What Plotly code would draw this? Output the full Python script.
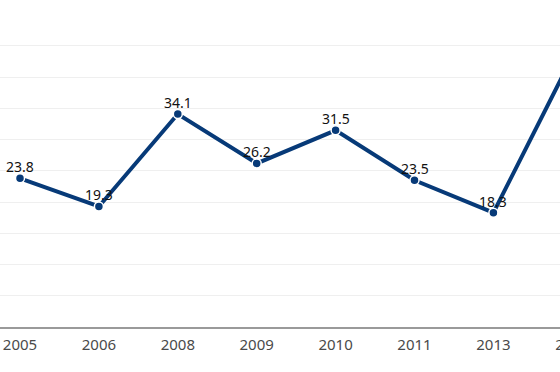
import plotly.graph_objects as go

years = ["2005", "2006", "2008", "2009", "2010", "2011", "2013", "2014"]
values = [23.8, 19.3, 34.1, 26.2, 31.5, 23.5, 18.3, 43.3]
# the last point lies beyond the visible edge of the reference; its label is not shown there
label_visible = [True, True, True, True, True, True, True, False]

line_color = "#073a78"
font_family = "Noto Sans, Open Sans, sans-serif"

fig = go.Figure(
    go.Scatter(
        x=years,
        y=values,
        mode="lines+markers",
        line=dict(color=line_color, width=4),
        marker=dict(color=line_color, size=9, line=dict(color="white", width=1.5)),
        cliponaxis=True,
        hoverinfo="skip",
    )
)

# category axis: annotations are positioned by category index
for i, (v, show) in enumerate(zip(values, label_visible)):
    if show:
        fig.add_annotation(
            x=i, y=v, xref="x", yref="y",
            text=f"{v:.1f}",
            showarrow=False,
            xanchor="center", yanchor="bottom",
            yshift=0,
            font=dict(family=font_family, size=14, color="#111111"),
        )

fig.update_layout(
    width=600,
    height=372,
    margin=dict(l=0, r=0, t=21, b=45),
    paper_bgcolor="white",
    plot_bgcolor="white",
    showlegend=False,
    font=dict(family=font_family),
    hovermode=False,
)

fig.update_xaxes(
    type="category",
    categoryorder="array",
    categoryarray=years,
    range=[-0.2535, 7.351],
    showgrid=False,
    showline=True,
    linecolor="#9a9a9a",
    linewidth=1.5,
    ticks="",
    ticklabelstandoff=3,
    tickfont=dict(size=15, color="#4a4a4a"),
)

fig.update_yaxes(
    range=[0, 49],
    dtick=5,
    showgrid=True,
    gridcolor="#efefef",
    gridwidth=1,
    zeroline=False,
    showticklabels=False,
    showline=False,
)

fig.write_html(
    "out.html",
    config={"displayModeBar": False},
    post_script="document.body.style.margin='0';document.body.style.overflow='hidden';",
)
